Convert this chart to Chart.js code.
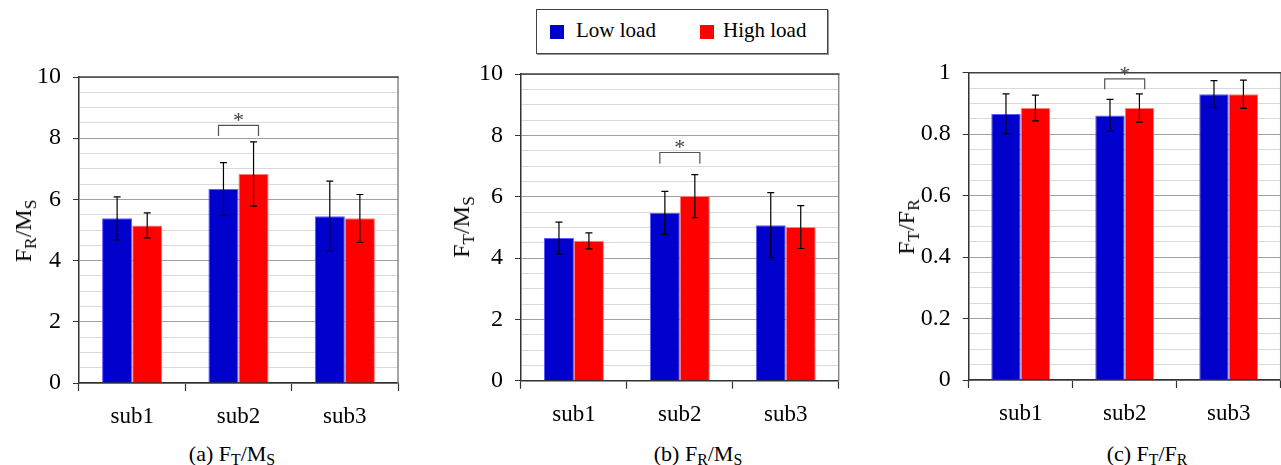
<!DOCTYPE html>
<html>
<head>
<meta charset="utf-8">
<script src="https://cdn.jsdelivr.net/npm/chart.js"></script>
<style>
	body { margin: 0; width: 1281px; height: 465px; background: #fff; position: relative; overflow: hidden; font-family: "Liberation Serif", serif; color: #000; }
	.box { position: absolute; }
	.ytitle { position: absolute; transform: translate(-50%, -50%) rotate(-90deg); font-size: 24px; line-height: 1; white-space: nowrap; }
	.cap { position: absolute; transform: translateX(-50%); font-size: 22px; line-height: 1; white-space: nowrap; }
	sub { font-size: 0.72em; vertical-align: -0.28em; line-height: 0; }
	#legend { position: absolute; left: 536px; top: 9px; width: 290px; height: 43px; border: 1px solid #444; box-shadow: 1px 1px 0 #999; font-size: 21px; }
	#legend .sw { position: absolute; width: 14px; height: 14px; top: 15px; }
	#legend .lb { position: absolute; top: 10px; line-height: 1; }
</style>
</head>
<body>

<div id="legend">
	<span class="sw" style="left:13px;background:#0000CC"></span><span class="lb" style="left:39px">Low load</span>
	<span class="sw" style="left:163px;background:#FF0000"></span><span class="lb" style="left:186px">High load</span>
</div>

<div class="box" style="left:0px;top:40px;width:400px;height:395px"><canvas id="chartA"></canvas></div>
<div class="box" style="left:440px;top:40px;width:400px;height:395px"><canvas id="chartB"></canvas></div>
<div class="box" style="left:890px;top:40px;width:391px;height:395px"><canvas id="chartC"></canvas></div>

<div class="ytitle" style="left:23px;top:231px">F<sub>R</sub>/M<sub>S</sub></div>
<div class="ytitle" style="left:461px;top:227px">F<sub>T</sub>/M<sub>S</sub></div>
<div class="ytitle" style="left:906px;top:227px">F<sub>T</sub>/F<sub>R</sub></div>

<div class="cap" style="left:232px;top:443px">(a) F<sub>T</sub>/M<sub>S</sub></div>
<div class="cap" style="left:698px;top:443px">(b) F<sub>R</sub>/M<sub>S</sub></div>
<div class="cap" style="left:1147px;top:443px">(c) F<sub>T</sub>/F<sub>R</sub></div>

<script>
	const categories = ['sub1', 'sub2', 'sub3']
	const seriesNames = ['Low load', 'High load']

	// (a) F_R/M_S
	const aLow = [5.38, 6.34, 5.45]
	const aLowSd = [0.70, 0.86, 1.15]
	const aHigh = [5.15, 6.83, 5.38]
	const aHighSd = [0.41, 1.05, 0.78]

	// (b) F_T/M_S
	const bLow = [4.65, 5.47, 5.07]
	const bLowSd = [0.52, 0.70, 1.06]
	const bHigh = [4.56, 6.02, 5.01]
	const bHighSd = [0.26, 0.70, 0.70]

	// (c) F_T/F_R
	const cLow = [0.866, 0.861, 0.930]
	const cLowSd = [0.065, 0.052, 0.044]
	const cHigh = [0.885, 0.885, 0.930]
	const cHighSd = [0.042, 0.046, 0.046]

	// significance brackets: [category index, bracket top, leg bottom]
	const aSig = [1, 8.42, 8.07]
	const bSig = [1, 7.44, 7.07]
	const cSig = [1, 0.980, 0.946]

	const FONT = "'Liberation Serif', 'Times New Roman', serif"

	const errorBars = {
		id: 'errorBars',
		afterDatasetsDraw(chart) {
			const ctx = chart.ctx
			const y = chart.scales.y
			ctx.save()
			ctx.strokeStyle = '#000'
			ctx.lineWidth = 1.2
			chart.data.datasets.forEach((ds, d) => {
				chart.getDatasetMeta(d).data.forEach((bar, i) => {
					const top = y.getPixelForValue(ds.data[i] + ds.sd[i])
					const bot = y.getPixelForValue(ds.data[i] - ds.sd[i])
					ctx.beginPath()
					ctx.moveTo(bar.x, top); ctx.lineTo(bar.x, bot)
					ctx.moveTo(bar.x - 3.5, top); ctx.lineTo(bar.x + 3.5, top)
					ctx.moveTo(bar.x - 3.5, bot); ctx.lineTo(bar.x + 3.5, bot)
					ctx.stroke()
				})
			})
			ctx.restore()
		}
	}

	const frame = {
		id: 'frame',
		afterDraw(chart) {
			const { ctx, chartArea: a } = chart
			ctx.save()
			ctx.lineWidth = 1.5
			ctx.strokeStyle = '#888'
			ctx.beginPath(); ctx.moveTo(a.right, a.top); ctx.lineTo(a.right, a.bottom); ctx.stroke()
			ctx.strokeStyle = '#404040'
			ctx.beginPath(); ctx.moveTo(a.left, a.top); ctx.lineTo(a.right + 0.75, a.top); ctx.stroke()
			ctx.restore()
		}
	}

	function bracketPlugin(sig) {
		return {
			id: 'bracket',
			afterDraw(chart) {
				const ctx = chart.ctx
				const cx = chart.scales.x.getPixelForValue(sig[0])
				const yt = chart.scales.y.getPixelForValue(sig[1])
				const yb = chart.scales.y.getPixelForValue(sig[2])
				ctx.save()
				ctx.strokeStyle = '#555'
				ctx.lineWidth = 1.2
				ctx.beginPath()
				ctx.moveTo(cx - 20, yb); ctx.lineTo(cx - 20, yt); ctx.lineTo(cx + 20, yt); ctx.lineTo(cx + 20, yb)
				ctx.stroke()
				ctx.fillStyle = '#444'
				ctx.font = '22px ' + FONT
				ctx.textAlign = 'center'
				ctx.textBaseline = 'middle'
				ctx.fillText('*', cx, yt - 4)
				ctx.restore()
			}
		}
	}

	function makeChart(id, low, lowSd, high, highSd, yMax, minor, major, box, sig) {
		const isMajor = v => Math.abs(v / major - Math.round(v / major)) < 1e-6
		return new Chart(document.getElementById(id), {
			type: 'bar',
			data: {
				labels: categories,
				datasets: [{
					label: seriesNames[0],
					data: low,
					sd: lowSd,
					backgroundColor: '#0000CC',
					borderColor: '#5c5cff',
					borderWidth: 1,
				}, {
					label: seriesNames[1],
					data: high,
					sd: highSd,
					backgroundColor: '#FF0000',
					borderColor: '#ff7a7a',
					borderWidth: 1,
				}]
			},
			options: {
				responsive: true,
				maintainAspectRatio: false,
				animation: false,
				categoryPercentage: 0.566,
				barPercentage: 1.0,
				layout: { padding: { top: box.top, right: box.right, left: 0, bottom: 0 } },
				plugins: { legend: { display: false }, tooltip: { enabled: false } },
				scales: {
					x: {
						offset: true,
						afterFit: s => { s.height = box.xh },
						grid: { offset: true, drawOnChartArea: false, drawTicks: true, tickLength: 8, tickColor: '#333', tickWidth: 1.2 },
						border: { color: '#333', width: 1.5 },
						ticks: { font: { family: FONT, size: 23 }, color: '#000', padding: 12 }
					},
					y: {
						min: 0,
						max: yMax,
						afterFit: s => { s.width = box.yw },
						grid: {
							color: c => isMajor(c.tick.value) ? '#a0a0a0' : '#d9d9d9',
							tickColor: c => isMajor(c.tick.value) ? '#333' : 'rgba(0,0,0,0)',
							tickLength: 6,
							lineWidth: 1,
						},
						border: { color: '#333', width: 1.5 },
						ticks: {
							stepSize: minor,
							autoSkip: false,
							font: { family: FONT, size: 24 },
							color: '#000',
							padding: 12,
							callback: v => isMajor(v) ? String(Number(v.toFixed(2))) : ''
						}
					}
				}
			},
			plugins: [errorBars, frame, bracketPlugin(sig)]
		})
	}

	makeChart('chartA', aLow, aLowSd, aHigh, aHighSd, 10, 0.5, 2, { top: 37, right: 2, yw: 79, xh: 52 }, aSig)
	makeChart('chartB', bLow, bLowSd, bHigh, bHighSd, 10, 0.5, 2, { top: 34, right: 1.3, yw: 81, xh: 54.3 }, bSig)
	makeChart('chartC', cLow, cLowSd, cHigh, cHighSd, 1, 0.05, 0.2, { top: 32.7, right: 0.3, yw: 78.7, xh: 55 }, cSig)
</script>
</body>
</html>
